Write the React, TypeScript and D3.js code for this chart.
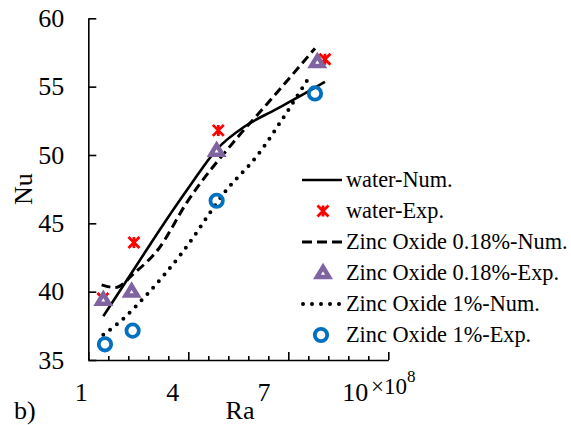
import { useRef, useEffect } from 'react';
import * as d3 from 'd3';

// Ra in units of 10^8
const raTicks = [1, 4, 7, 10];
const nuTicks = [35, 40, 45, 50, 55, 60];

const waterNumRa = [1.45, 2.4, 3.3, 4.05, 4.85, 5.7, 6.6, 7.35, 8.1];
const waterNumNu = [38.2, 41.75, 45.1, 47.75, 50.4, 52.1, 53.3, 54.3, 55.35];

const zn018NumRa = [1.4, 1.8, 2.4, 3.1, 3.95, 5.5, 6.35, 7.8];
const zn018NumNu = [40.5, 40.3, 41.4, 43.1, 46.5, 51.35, 53.7, 57.8];

const zn1NumRa = [1.45, 1.95, 2.8, 3.8, 5.15, 6.05, 6.95, 7.6];
const zn1NumNu = [36.85, 37.8, 39.9, 42.8, 47.45, 49.9, 53.1, 55.6];

const waterExpRa = [1.44, 2.37, 4.9, 8.1];
const waterExpNu = [39.5, 43.6, 51.8, 57.0];

const zn018ExpRa = [1.45, 2.3, 4.85, 7.87];
const zn018ExpNu = [39.4, 40.0, 50.3, 56.8];

const zn1ExpRa = [1.5, 2.33, 4.85, 7.8];
const zn1ExpNu = [36.15, 37.15, 46.65, 54.5];

const legendLabels = [
  'water-Num.',
  'water-Exp.',
  'Zinc Oxide 0.18%-Num.',
  'Zinc Oxide 0.18%-Exp.',
  'Zinc Oxide 1%-Num.',
  'Zinc Oxide 1%-Exp.',
];

const RED = '#ff0000',
  PURPLE = '#8064a2',
  BLUE = '#0070c0';
const FONT = '"Liberation Serif", "Times New Roman", serif';

const zip = (xs: number[], ys: number[]) => xs.map((v, i) => [v, ys[i]] as [number, number]);

function Star({ cx, cy }: { cx: number; cy: number }) {
  const r = 5.5;
  return (
    <path
      d={`M${cx - r},${cy - r}L${cx + r},${cy + r}M${cx - r},${cy + r}L${cx + r},${cy - r}M${cx},${cy - r}L${cx},${cy + r}`}
      stroke={RED}
      strokeWidth={2.8}
      fill="none"
    />
  );
}

function Tri({ cx, cy }: { cx: number; cy: number }) {
  const r = 6;
  return (
    <path
      d={`M${cx},${cy - r}L${cx + r * 1.0},${cy + r * 0.65}L${cx - r * 1.0},${cy + r * 0.65}Z`}
      fill="#fff"
      stroke={PURPLE}
      strokeWidth={4.5}
      strokeLinejoin="miter"
    />
  );
}

function Ring({ cx, cy }: { cx: number; cy: number }) {
  return <circle cx={cx} cy={cy} r={6.2} fill="none" stroke={BLUE} strokeWidth={3.8} />;
}

export default function App() {
  const gx = useRef<SVGGElement>(null),
    gy = useRef<SVGGElement>(null);

  const width = 571,
    height = 425;

  const x = d3.scaleLinear().domain([1, 10]).range([88.3, 388.3]);
  const y = d3.scaleLinear().domain([35, 60]).range([360, 18.3]);
  // the tick labels of the source figure sit a little left of the ticks
  const xLabel = d3.scaleLinear().domain([1, 10]).range([x(1) - 7, x(10) - 33]);

  const minorTicks = d3.range(0, 16).map((i) => 1 + i * 0.6);

  const line = d3
    .line<[number, number]>()
    .x((d) => x(d[0]))
    .y((d) => y(d[1]))
    .curve(d3.curveMonotoneX);

  useEffect(() => {
    const ax = d3.select(gx.current!);
    ax.selectAll('*').remove();
    ax.call(
      d3.axisBottom(x).tickValues(minorTicks).tickSize(-4).tickSizeOuter(0).tickFormat(() => '')
    );
    ax.selectAll('.tick line')
      .filter((d: any) => raTicks.some((t) => Math.abs(t - d) < 1e-6))
      .attr('y2', -8);
    ax.selectAll('path, line').attr('stroke', '#000').attr('stroke-width', 1.6);

    const ay = d3.select(gy.current!);
    ay.selectAll('*').remove();
    ay.call(d3.axisLeft(y).tickValues(nuTicks).tickSize(-8).tickSizeOuter(0).tickPadding(24));
    ay.selectAll('path, line').attr('stroke', '#000').attr('stroke-width', 1.6);
    ay.selectAll('text')
      .attr('font-family', FONT)
      .attr('font-size', 26)
      .attr('fill', '#000');
  }, []);

  const legendY = (i: number) => 180 + i * 31;

  return (
    <svg
      width={width}
      height={height}
      style={{ position: 'absolute', left: 0, top: 0, background: '#fff' }}
      fontFamily={FONT}
    >
      <rect width={width} height={height} fill="#fff" />
      <g ref={gy} transform={`translate(${x(1)},0)`} />
      <g ref={gx} transform={`translate(0,${y(35)})`} />

      {raTicks.map((t) => (
        <text key={t} x={xLabel(t)} y={401} textAnchor="middle" fontSize={26}>
          {t}
        </text>
      ))}
      <text x={371} y={394} fontSize={23}>
        ×10
        <tspan dy={-12} fontSize={17}>
          8
        </tspan>
      </text>
      <text x={240} y={419} textAnchor="middle" fontSize={26}>
        Ra
      </text>
      <text x={14} y={419} fontSize={26}>
        b)
      </text>
      <text
        transform={`translate(32,${(y(35) + y(60)) / 2}) rotate(-90)`}
        textAnchor="middle"
        fontSize={26}
      >
        Nu
      </text>

      {/* series */}
      <path d={line(zip(waterNumRa, waterNumNu))!} fill="none" stroke="#000" strokeWidth={2.6} />
      {zip(waterExpRa, waterExpNu).map((d, i) => (
        <Star key={'w' + i} cx={x(d[0])} cy={y(d[1])} />
      ))}
      <path
        d={line(zip(zn018NumRa, zn018NumNu))!}
        fill="none"
        stroke="#000"
        strokeWidth={3}
        strokeDasharray="9 5"
      />
      {zip(zn018ExpRa, zn018ExpNu).map((d, i) => (
        <Tri key={'t' + i} cx={x(d[0])} cy={y(d[1])} />
      ))}
      <path
        d={line(zip(zn1NumRa, zn1NumNu))!}
        fill="none"
        stroke="#000"
        strokeWidth={4}
        strokeLinecap="round"
        strokeDasharray="0 8.6"
      />
      {zip(zn1ExpRa, zn1ExpNu).map((d, i) => (
        <Ring key={'c' + i} cx={x(d[0])} cy={y(d[1])} />
      ))}

      {/* legend */}
      <g>
        <line x1={302} x2={342} y1={legendY(0)} y2={legendY(0)} stroke="#000" strokeWidth={2.6} />
        <Star cx={323} cy={legendY(1)} />
        <line
          x1={302}
          x2={342}
          y1={legendY(2)}
          y2={legendY(2)}
          stroke="#000"
          strokeWidth={3}
          strokeDasharray="10 5"
        />
        <Tri cx={323} cy={legendY(3)} />
        <line
          x1={303}
          x2={342}
          y1={legendY(4)}
          y2={legendY(4)}
          stroke="#000"
          strokeWidth={4}
          strokeLinecap="round"
          strokeDasharray="0 9"
        />
        <Ring cx={321} cy={legendY(5)} />
        {legendLabels.map((l, i) => (
          <text key={l} x={346} y={legendY(i) + 7} fontSize={22.3}>
            {l}
          </text>
        ))}
      </g>
    </svg>
  );
}
